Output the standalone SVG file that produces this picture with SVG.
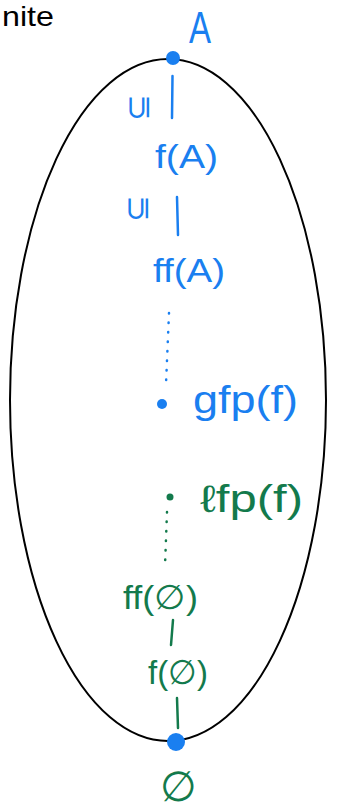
<svg xmlns="http://www.w3.org/2000/svg" width="356" height="809" viewBox="0 0 356 809">
<style>
.b{fill:#1a7ff0;font-family:"Liberation Sans",sans-serif}
.g{fill:#137a4c;font-family:"Liberation Sans",sans-serif}
.bl{stroke:#1a7ff0;stroke-width:2.5;stroke-linecap:round;fill:none}
.gl{stroke:#137a4c;stroke-width:2.5;stroke-linecap:round;fill:none}
.bd{stroke:#1a7ff0;stroke-width:2.5;stroke-linecap:round;stroke-dasharray:0.5 9;fill:none}
.gd{stroke:#137a4c;stroke-width:2.5;stroke-linecap:round;stroke-dasharray:0.5 9;fill:none}
</style>
<rect width="356" height="809" fill="#fff"/>
<text x="2" y="26" font-family="Liberation Sans,sans-serif" font-size="28" fill="#000" textLength="52" lengthAdjust="spacingAndGlyphs">nite</text>
<g id="set"><ellipse cx="168" cy="400" rx="158" ry="341" fill="none" stroke="#000" stroke-width="2"/></g>
<g id="connectors">
<line class="bl" x1="172.5" y1="76" x2="172" y2="118"/>
<line class="bl" x1="177" y1="197" x2="178" y2="235"/>
<line class="bd" x1="169" y1="313" x2="166" y2="384"/>
<line class="gd" x1="167" y1="512" x2="165" y2="566"/>
<line class="gl" x1="173" y1="620" x2="171" y2="645"/>
<line class="gl" x1="177" y1="698" x2="178" y2="728"/>
</g>
<g id="nA">
<circle cx="173" cy="58" r="7" fill="#1a7ff0"/>
<text class="b" x="200" y="43" font-size="44" text-anchor="middle" transform="translate(200 0) scale(0.75 1) translate(-200 0)">A</text>
</g>
<g id="le1"><text class="b" x="138" y="107" font-size="32" text-anchor="middle" transform="rotate(-90 138 107) translate(0 11)">⊆</text></g>
<g id="nfA"><text class="b" x="155" y="168" font-size="34" textLength="63" lengthAdjust="spacingAndGlyphs">f(A)</text></g>
<g id="le2"><text class="b" x="137" y="208" font-size="32" text-anchor="middle" transform="rotate(-90 137 208) translate(0 11)">⊆</text></g>
<g id="nffA"><text class="b" x="153" y="282" font-size="34" textLength="72" lengthAdjust="spacingAndGlyphs">ff(A)</text></g>
<g id="ngfp">
<circle cx="162" cy="404" r="5" fill="#1a7ff0"/>
<text class="b" x="193" y="413" font-size="38" textLength="105" lengthAdjust="spacingAndGlyphs">gfp(f)</text>
</g>
<g id="nlfp">
<circle cx="170" cy="497" r="3.5" fill="#137a4c"/>
<text class="g" x="200" y="512" font-size="38" textLength="103" lengthAdjust="spacingAndGlyphs">ℓfp(f)</text>
</g>
<g id="nff0"><text class="g" x="123" y="609" font-size="34" textLength="75" lengthAdjust="spacingAndGlyphs">ff(∅)</text></g>
<g id="nf0"><text class="g" x="148" y="684" font-size="34" textLength="60" lengthAdjust="spacingAndGlyphs">f(∅)</text></g>
<g id="n0">
<circle cx="176" cy="742" r="9" fill="#1a7ff0"/>
<text class="g" x="178" y="801" font-size="42" text-anchor="middle">∅</text>
</g>
</svg>
